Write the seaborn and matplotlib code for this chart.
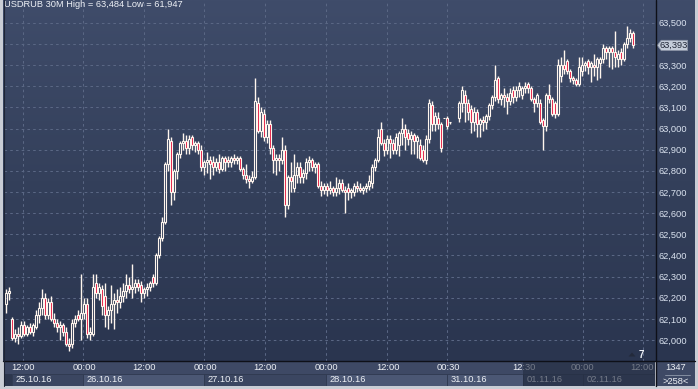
import numpy as np
import pandas as pd
import matplotlib
matplotlib.use("Agg")
import matplotlib.pyplot as plt
import seaborn as sns
from matplotlib.patches import Rectangle, Polygon
from matplotlib.colors import LinearSegmentedColormap
from matplotlib.ticker import FuncFormatter
import matplotlib.transforms as mtransforms

nan = float("nan")

# ---------------- data (USDRUB 30M candles) ----------------
opens = [62.17, 62.22, 62.10, 62.01, 62.03, 62.02, 62.07, 62.03, 62.06, 62.04,
         62.06, 62.12, 62.15, 62.20, 62.12, 62.18, 62.10, 62.08, 62.06, 62.07,
         62.04, 61.98, 61.98, 62.08, 62.12, 62.10, 62.13, 62.17, 62.03, 62.03,
         62.27, 62.22, 62.24, 62.21, 62.12, 62.14, 62.17, 62.19, 62.18, 62.21,
         62.23, 62.26, 62.24, 62.25, 62.27, 62.26, 62.22, 62.24, 62.25, 62.30,
         62.27, 62.40, 62.48, 62.56, 62.83, 62.94, 62.70, 62.80, 62.88, 62.93,
         62.94, 62.91, 62.96, 62.92, 62.93, 62.90, 62.82, 62.84, 62.85, 62.84,
         62.82, 62.84, 62.81, 62.86, 62.85, 62.84, 62.86, 62.85, 62.86, 62.81,
         62.78, 62.76, 62.75, 62.77, 63.12, 62.99, 63.07, 62.96, 63.02, 62.91,
         62.85, 62.86, 62.85, 62.90, 62.64, 62.77, 62.72, 62.78, 62.82, 62.77,
         62.79, 62.84, 62.85, 62.82, 62.83, 62.73, 62.71, 62.73, 62.71, 62.72,
         62.70, 62.72, 62.74, 62.71, 62.72, 62.70, 62.70, 62.73, 62.72, 62.71,
         62.72, 62.73, 62.74, 62.82, 62.85, 63.00, 62.93, 62.90, 62.95, 62.93,
         62.90, 62.92, 62.98, 63.00, 62.98, 62.95, 62.97, 62.94, 62.92, 62.90,
         62.85, 62.95, 63.11, 63.02, 63.05, 63.02, 63.05, 63.05, 63.03, nan,
         nan, 63.05, 63.12, 63.16, 63.12, 63.09, 63.03, 63.08, 63.02, 63.04,
         63.03, 63.06, 63.11, 63.15, 63.24, 63.14, 63.16, 63.15, 63.13, 63.18,
         63.15, 63.18, 63.16, 63.19, 63.21, 63.19, 63.14, 63.12, 63.12, 63.04,
         63.01, 63.16, 63.14, 63.12, 63.07, 63.25, 63.30, 63.32, 63.27, 63.24,
         63.23, 63.21, 63.27, 63.30, 63.32, 63.29, 63.30, 63.29, 63.31, 63.33,
         63.38, 63.36, 63.38, 63.36, 63.33, 63.36, 63.33, 63.40, 63.43, 63.45]
highs = [62.24, 62.25, 62.11, 62.05, 62.06, 62.09, 62.09, 62.07, 62.08, 62.08,
         62.14, 62.18, 62.24, 62.22, 62.20, 62.21, 62.13, 62.10, 62.09, 62.08,
         62.06, 62.01, 62.10, 62.12, 62.14, 62.31, 62.20, 62.20, 62.06, 62.31,
         62.31, 62.27, 62.26, 62.27, 62.16, 62.26, 62.22, 62.24, 62.25, 62.27,
         62.31, 62.30, 62.36, 62.29, 62.29, 62.28, 62.25, 62.27, 62.28, 62.31,
         62.41, 62.49, 62.58, 62.84, 63.00, 62.96, 62.81, 62.89, 62.94, 62.98,
         62.97, 62.97, 62.97, 62.94, 62.94, 62.92, 62.85, 62.89, 62.87, 62.87,
         62.86, 62.88, 62.87, 62.87, 62.87, 62.87, 62.88, 62.87, 62.87, 62.82,
         62.83, 62.78, 62.80, 63.24, 63.15, 63.10, 63.09, 63.04, 63.04, 62.92,
         62.88, 62.88, 62.96, 62.92, 62.78, 62.84, 62.88, 62.84, 62.84, 62.81,
         62.86, 62.87, 62.86, 62.84, 62.84, 62.75, 62.74, 62.74, 62.75, 62.73,
         62.77, 62.76, 62.76, 62.73, 62.74, 62.72, 62.74, 62.75, 62.74, 62.73,
         62.74, 62.78, 62.83, 62.86, 63.00, 63.03, 62.95, 62.97, 62.97, 62.95,
         62.98, 62.99, 63.05, 63.02, 63.00, 62.99, 62.98, 62.97, 62.95, 62.92,
         62.97, 63.14, 63.13, 63.08, 63.08, 63.03, 63.05, 63.06, 63.03, nan,
         nan, 63.13, 63.20, 63.18, 63.14, 63.11, 63.10, 63.09, 63.05, 63.06,
         63.07, 63.12, 63.16, 63.30, 63.25, 63.17, 63.19, 63.17, 63.19, 63.20,
         63.20, 63.22, 63.20, 63.22, 63.22, 63.20, 63.15, 63.17, 63.14, 63.05,
         63.17, 63.21, 63.15, 63.13, 63.33, 63.34, 63.37, 63.33, 63.28, 63.25,
         63.24, 63.34, 63.34, 63.32, 63.33, 63.32, 63.35, 63.34, 63.34, 63.40,
         63.39, 63.39, 63.39, 63.46, 63.37, 63.38, 63.41, 63.484, 63.47, 63.46]
lows = [62.13, 62.19, 62.00, 61.99, 61.98, 62.01, 62.02, 62.02, 62.03, 62.02,
        62.05, 62.08, 62.12, 62.10, 62.10, 62.09, 62.06, 62.04, 62.00, 62.02,
        61.97, 61.947, 61.96, 62.06, 62.09, 62.00, 62.10, 62.01, 62.00, 62.02,
        62.20, 62.19, 62.12, 62.06, 62.05, 62.08, 62.05, 62.13, 62.15, 62.18,
        62.20, 62.22, 62.20, 62.22, 62.23, 62.18, 62.20, 62.21, 62.23, 62.25,
        62.26, 62.39, 62.47, 62.55, 62.80, 62.64, 62.66, 62.76, 62.86, 62.90,
        62.88, 62.88, 62.90, 62.89, 62.88, 62.80, 62.78, 62.79, 62.76, 62.78,
        62.80, 62.79, 62.80, 62.80, 62.82, 62.82, 62.83, 62.83, 62.80, 62.76,
        62.74, 62.72, 62.74, 62.76, 62.98, 62.96, 62.94, 62.93, 62.88, 62.79,
        62.78, 62.80, 62.83, 62.58, 62.62, 62.70, 62.70, 62.74, 62.74, 62.74,
        62.76, 62.80, 62.80, 62.79, 62.72, 62.68, 62.69, 62.68, 62.69, 62.68,
        62.68, 62.69, 62.70, 62.60, 62.66, 62.67, 62.68, 62.70, 62.70, 62.69,
        62.70, 62.71, 62.72, 62.80, 62.84, 62.92, 62.87, 62.88, 62.86, 62.88,
        62.88, 62.87, 62.92, 62.90, 62.92, 62.88, 62.88, 62.86, 62.85, 62.84,
        62.83, 62.93, 62.99, 62.99, 63.00, 62.89, 63.05, 63.00, 63.02, nan,
        nan, 63.03, 63.08, 63.03, 63.04, 62.98, 62.99, 62.96, 62.96, 62.99,
        63.00, 63.04, 63.09, 63.13, 63.12, 63.11, 63.10, 63.07, 63.11, 63.12,
        63.13, 63.15, 63.14, 63.17, 63.17, 63.13, 63.08, 63.10, 63.02, 62.90,
        62.99, 63.12, 63.06, 63.05, 63.06, 63.22, 63.26, 63.26, 63.22, 63.21,
        63.20, 63.20, 63.25, 63.27, 63.26, 63.22, 63.25, 63.23, 63.24, 63.31,
        63.33, 63.29, 63.28, 63.29, 63.29, 63.30, 63.32, 63.38, 63.41, 63.38]
closes = [62.22, 62.23, 62.01, 62.03, 62.02, 62.07, 62.03, 62.06, 62.04, 62.07,
          62.12, 62.15, 62.20, 62.12, 62.18, 62.10, 62.08, 62.06, 62.07, 62.04,
          61.98, 61.97, 62.08, 62.10, 62.10, 62.13, 62.17, 62.03, 62.04, 62.25,
          62.22, 62.25, 62.16, 62.12, 62.14, 62.17, 62.19, 62.18, 62.21, 62.23,
          62.26, 62.24, 62.25, 62.27, 62.25, 62.22, 62.24, 62.25, 62.27, 62.27,
          62.40, 62.48, 62.56, 62.83, 62.95, 62.70, 62.80, 62.88, 62.93, 62.94,
          62.91, 62.95, 62.92, 62.93, 62.90, 62.82, 62.84, 62.85, 62.83, 62.82,
          62.84, 62.81, 62.86, 62.84, 62.84, 62.86, 62.85, 62.86, 62.81, 62.78,
          62.76, 62.75, 62.77, 63.13, 62.99, 63.08, 62.96, 63.02, 62.91, 62.85,
          62.86, 62.85, 62.90, 62.64, 62.77, 62.75, 62.78, 62.82, 62.77, 62.79,
          62.84, 62.85, 62.82, 62.83, 62.73, 62.71, 62.73, 62.71, 62.72, 62.70,
          62.72, 62.74, 62.71, 62.70, 62.70, 62.71, 62.73, 62.72, 62.71, 62.72,
          62.73, 62.75, 62.82, 62.85, 62.96, 62.93, 62.90, 62.95, 62.93, 62.90,
          62.96, 62.98, 63.00, 62.96, 62.95, 62.97, 62.94, 62.96, 62.86, 62.85,
          62.95, 63.12, 63.02, 63.06, 63.02, 62.91, 63.05, 63.01, 63.03, nan,
          nan, 63.12, 63.18, 63.12, 63.08, 63.03, 63.08, 63.02, 63.04, 63.03,
          63.06, 63.11, 63.15, 63.23, 63.14, 63.16, 63.15, 63.13, 63.17, 63.15,
          63.18, 63.20, 63.19, 63.20, 63.19, 63.14, 63.12, 63.16, 63.03, 63.01,
          63.16, 63.14, 63.07, 63.07, 63.30, 63.30, 63.28, 63.27, 63.24, 63.23,
          63.21, 63.29, 63.30, 63.31, 63.29, 63.31, 63.29, 63.33, 63.33, 63.38,
          63.36, 63.38, 63.36, 63.34, 63.35, 63.33, 63.40, 63.43, 63.45, 63.393]

price_ticks = [62.0, 62.1, 62.2, 62.3, 62.4, 62.5, 62.6, 62.7, 62.8, 62.9,
               63.0, 63.1, 63.2, 63.3, 63.4, 63.5]
time_labels = ["12:00", "00:00", "12:00", "00:00", "12:00", "00:00",
               "12:00", "00:30", "12:30", "00:00", "12:00"]
date_labels = ["25.10.16", "26.10.16", "27.10.16", "28.10.16", "31.10.16",
               "01.11.16", "02.11.16"]
title_text = "USDRUB 30M High = 63,484 Low = 61,947"
last_price = 63.393
corner_top = "1347"
corner_bottom = ">258<"
marker_count = "7"

# ---------------- layout (bar-index positions) ----------------
time_pos = [5.67, 26.0, 46.0, 66.33, 86.33, 106.67, 127.33, 147.33, 172.67, 192.0, 212.0]
grid_pos = [5.67, 25.67, 46.0, 66.0, 86.33, 106.67, 127.0, 147.0, 192.33, 212.33]
date_edges = [2.0, 25.67, 66.0, 106.67, 147.0, 172.3, 192.3, 216.33]
date_shades = ["#3b4661", "#4b5774", "#3b4661", "#4b5774", "#4b5774", "#3b4661", "#3b4661"]
XLIM = (-0.667, 216.33)
YLIM = (61.9007, 63.6076)

df = pd.DataFrame({"o": opens, "h": highs, "l": lows, "c": closes})
df["i"] = np.arange(len(df))
df = df.dropna()
df["up"] = df["c"] >= df["o"]
df["top"] = df[["o", "c"]].max(axis=1)
df["bottom"] = df[["o", "c"]].min(axis=1)
df["height"] = (df["c"] - df["o"]).abs().clip(lower=0.002)

sns.set_theme(style="dark")
plt.rcParams["font.family"] = ["Liberation Sans", "DejaVu Sans"]

W, H = 698, 389
fig = plt.figure(figsize=(6.98, 3.89), dpi=100)
fig.patch.set_facecolor("#c9cdd5")


def px_axes(x0, y0, x1, y1, **kw):
    return fig.add_axes([x0 / W, 1 - y1 / H, (x1 - x0) / W, (y1 - y0) / H], **kw)


# gradient background for plot + right scale
bg = px_axes(3, 0, 695, 361)
cmap = LinearSegmentedColormap.from_list("bgc", ["#3f4c6a", "#34405b", "#2a354f"])
bg.imshow(np.linspace(0, 1, 256).reshape(-1, 1), cmap=cmap, aspect="auto",
          extent=[0, 1, 0, 1])
bg.set_axis_off()

# main candle axes
ax = px_axes(4, 0, 655, 361)
ax.set_facecolor("none")
ax.set_xlim(*XLIM)
ax.set_ylim(*YLIM)

# grid
for y in price_ticks:
    ax.axhline(y, color="#5a6784", lw=0.75, ls=(0, (2.5, 3)), zorder=1)
for x in grid_pos:
    ax.axvline(x, color="#5a6784", lw=0.75, ls=(0, (2.5, 3)), zorder=1)

WICK = "#fff6ee"
# wicks: upper and lower shadows outside the body
ax.vlines(df["i"], df["top"], df["h"], color=WICK, lw=1.0, zorder=2)
ax.vlines(df["i"], df["l"], df["bottom"], color=WICK, lw=1.0, zorder=2)
# bodies: hollow for rising bars, red for falling bars
up = df[df["up"]]
dn = df[~df["up"]]
ax.bar(up["i"], up["height"], bottom=up["bottom"], width=0.85,
       facecolor="none", edgecolor=WICK, linewidth=0.8, zorder=3)
ax.bar(dn["i"], dn["height"], bottom=dn["bottom"], width=0.85,
       facecolor="#e3173f", edgecolor=WICK, linewidth=0.8, zorder=3)

# price scale on the right; the label hidden behind the last-price tag is skipped
label_ticks = [t for t in price_ticks if abs(t - last_price) > 0.03]
ax.set_xticks([])
ax.yaxis.tick_right()
ax.set_yticks(label_ticks)
ax.yaxis.set_major_formatter(FuncFormatter(lambda v, p: f"{v:.3f}".replace(".", ",")))
ax.tick_params(axis="y", length=0, pad=2.3, labelsize=6.7, labelcolor="#dae2ef")
for s in ax.spines.values():
    s.set_visible(False)

# title
ax.text(0.0, 0.999, title_text, transform=ax.transAxes, ha="left", va="top",
        fontsize=6.7, color="#eef1f6")

# last price tag
tr = mtransforms.blended_transform_factory(ax.transAxes, ax.transData)
hh = 0.024
tag = Polygon([(1.0035, last_price), (1.0095, last_price + hh), (1.05, last_price + hh),
               (1.05, last_price - hh), (1.0095, last_price - hh)], closed=True,
              transform=tr, facecolor="#c4ccd9", edgecolor="#8a93a5", lw=0.6,
              clip_on=False, zorder=5)
ax.add_patch(tag)
ax.text(1.029, last_price, f"{last_price:.3f}".replace(".", ","), transform=tr,
        ha="center", va="center", fontsize=6.7, color="#1f2535", zorder=6, clip_on=False)

# bottom time / date bar
bx = px_axes(4, 361, 655, 386)
bx.set_xlim(*XLIM)
bx.set_ylim(0, 1)
bx.set_facecolor("#3e4965")
bx.set_xticks([])
bx.set_yticks([])
for s in bx.spines.values():
    s.set_visible(False)
bx.add_patch(Rectangle((XLIM[0], 0), date_edges[0] - XLIM[0], 0.5, facecolor="#2d374e",
                       edgecolor="none"))
for k in range(len(date_labels)):
    x0, x1 = date_edges[k], date_edges[k + 1]
    bx.add_patch(Rectangle((x0, 0), x1 - x0, 0.5, facecolor=date_shades[k],
                           edgecolor="#2f3950", lw=0.6))
    bx.text(x0 + 1.3, 0.24, date_labels[k], ha="left", va="center",
            fontsize=6.7, color="#eef1f6")
for x, lab in zip(time_pos, time_labels):
    bx.text(x, 0.74, lab, ha="center", va="center", fontsize=6.7, color="#eef1f6")
# dim overlay on the last part
bx.add_patch(Rectangle((172.3, 0), XLIM[1] - 172.3, 1.0, facecolor="#232c40",
                       alpha=0.6, edgecolor="none", zorder=5))

# overlay for frame lines and corner box (pixel coordinates)
ov = fig.add_axes([0, 0, 1, 1], facecolor="none")
ov.set_xlim(0, W)
ov.set_ylim(H, 0)
ov.set_axis_off()
ov.add_patch(Rectangle((655.5, 361), 39.5, 25, facecolor="#3e4965", edgecolor="none"))
ov.plot([655.5, 655.5], [0, 386], color="#0e1018", lw=1.0)
ov.plot([3, 695], [361, 361], color="#0e1018", lw=1.0)
ov.plot([3.5, 3.5], [0, 386], color="#1e2535", lw=0.8)
ov.plot([665, 690], [374.5, 374.5], color="#8f98aa", lw=0.6)
ov.text(676, 368, corner_top, ha="center", va="center", fontsize=6.7, color="#eef1f6")
ov.text(676, 381, corner_bottom, ha="center", va="center", fontsize=6.7, color="#eef1f6")
ov.add_patch(Polygon([(628.5, 356.5), (632, 352.5), (635.5, 356.5)], closed=True,
                     facecolor="#232a3b", edgecolor="none"))
ov.text(641.5, 355, marker_count, ha="center", va="center", fontsize=7,
        color="#eef1f6", fontweight="bold")

fig.savefig("out.png", dpi=100, facecolor=fig.get_facecolor())
